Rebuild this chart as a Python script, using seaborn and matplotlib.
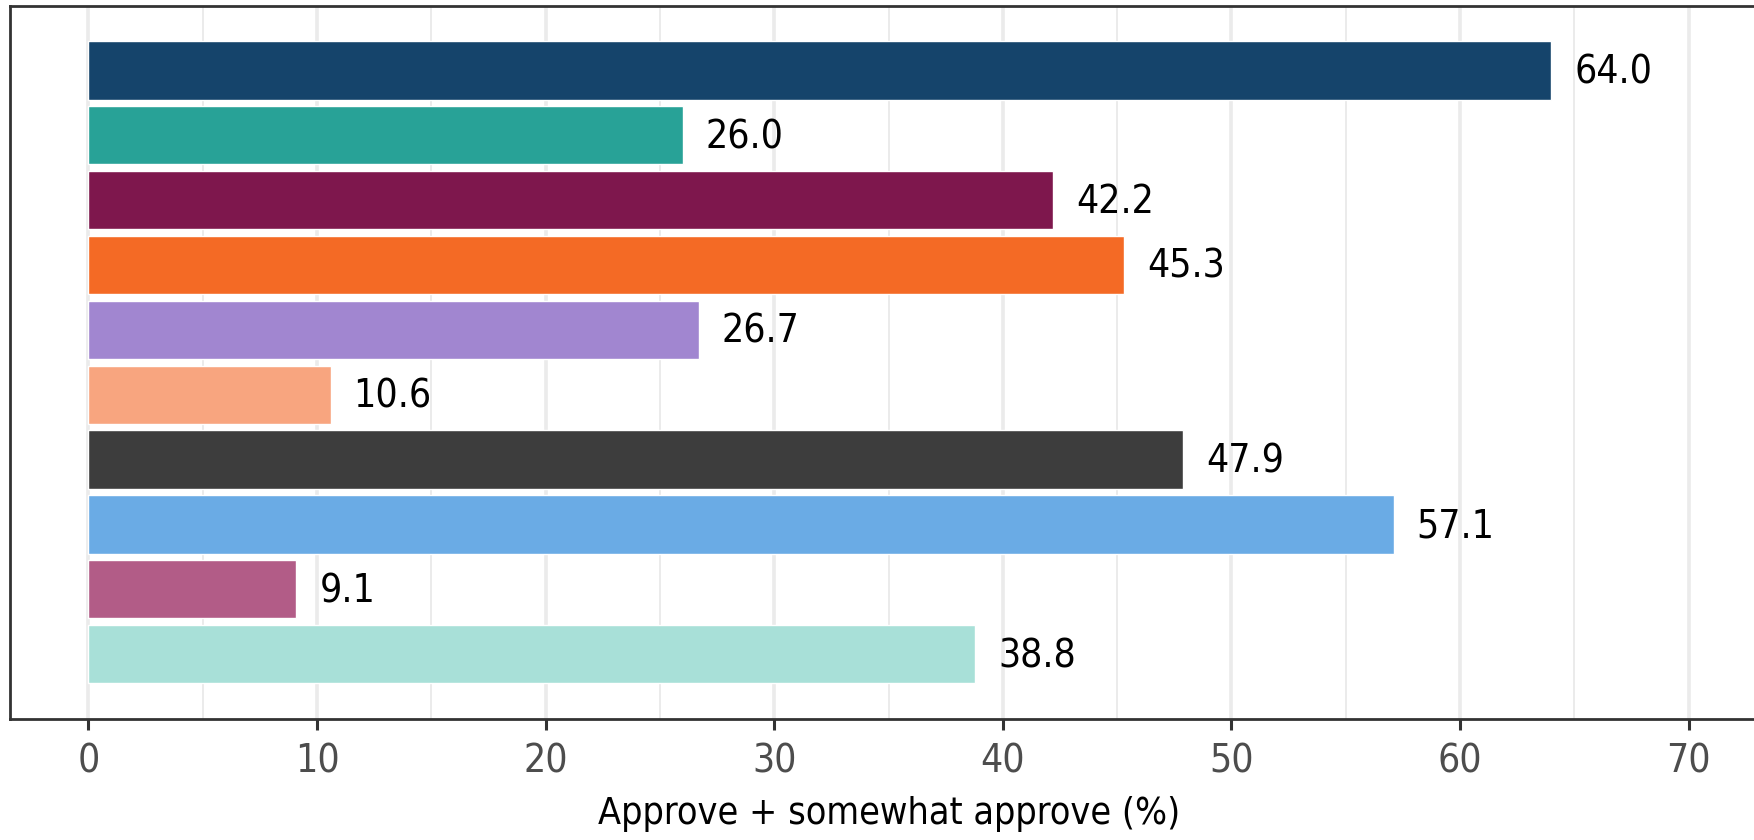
import matplotlib
matplotlib.use("Agg")
import matplotlib.pyplot as plt
import seaborn as sns
import pandas as pd
from matplotlib.ticker import MultipleLocator

# data (top to bottom)
groups = ["G1", "G2", "G3", "G4", "G5", "G6", "G7", "G8", "G9", "G10"]
approve = [64.0, 26.0, 42.2, 45.3, 26.7, 10.6, 47.9, 57.1, 9.1, 38.8]
colors = ["#15446B", "#28A297", "#7E174D", "#F46A25", "#A186D0",
          "#F8A57F", "#3D3D3D", "#6AABE5", "#B25C87", "#A8E0D8"]

df = pd.DataFrame({"group": groups, "approve": approve})

sns.set_style("white")
plt.rcParams["font.family"] = ["DejaVu Sans"]
plt.rcParams["font.stretch"] = "condensed"

fig = plt.figure(figsize=(17.54, 8.4), dpi=100)
W, H = 1754, 840
xmin, xmax = -3.43, 73.5
px_per_unit = 22.86
ax_left, ax_top, ax_bottom = 10, 5.6, 719
ax_w = (xmax - xmin) * px_per_unit
ax = fig.add_axes([ax_left / W, (H - ax_bottom) / H, ax_w / W, (ax_bottom - ax_top) / H])

sns.barplot(data=df, x="approve", y="group", hue="group", palette=colors,
            legend=False, width=0.9, orient="h", ax=ax, zorder=3, saturation=1)

for i, v in enumerate(approve):
    ax.text(v + 1.0, i + 0.03, f"{v:.1f}", va="center", ha="left", fontsize=28, color="black")

ax.set_xlim(xmin, xmax)
ax.set_ylim(len(groups) - 1 + 1.0, -1.0)
ax.xaxis.set_major_locator(MultipleLocator(10))
ax.xaxis.set_minor_locator(MultipleLocator(5))
ax.grid(True, axis="x", which="major", color="#EBEBEB", linewidth=2.6, zorder=0)
ax.grid(True, axis="x", which="minor", color="#EBEBEB", linewidth=1.4, zorder=0)
ax.set_axisbelow(True)

ax.set_yticks([])
ax.set_ylabel("")
ax.set_xlabel("Approve + somewhat approve (%)", fontsize=27, color="black", labelpad=11)
ax.tick_params(axis="x", which="major", length=8, width=2.2, color="#333333",
               labelsize=28, labelcolor="#4D4D4D", pad=9, direction="out", bottom=True)
ax.tick_params(axis="x", which="minor", length=0)

for side in ["left", "top", "bottom", "right"]:
    ax.spines[side].set_visible(True)
    ax.spines[side].set_color("#333333")
    ax.spines[side].set_linewidth(2)

fig.savefig("out.png", dpi=100)
